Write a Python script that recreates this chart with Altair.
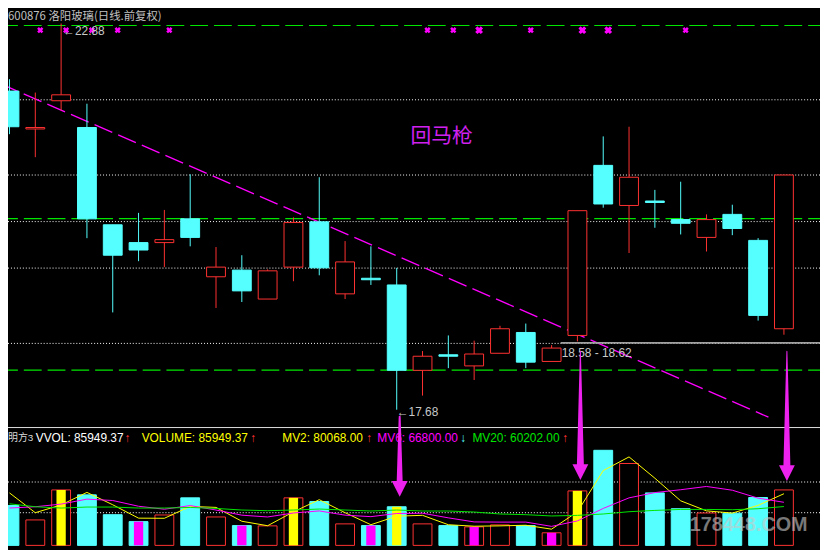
import altair as alt
import pandas as pd

W, H = 820, 542
BG = "#000000"
RED = "#ff3232"
CYAN = "#55ffff"
MAG = "#ff00ff"
ARROW = "#ee22ee"
YEL = "#ffff00"
GRN = "#00e600"
LBL = "#c8c8c8"

# ---------------- data ----------------
idx = list(range(1, 32))
open_p = [21.97, 21.46, 21.84, 21.48, 20.17, 19.93, 19.93, 20.25, 19.47, 19.56,
          19.17, 19.60, 20.21, 19.24, 19.45, 19.36, 18.21, 18.42, 18.27, 18.44,
          18.72, 18.33, 18.68, 20.97, 20.43, 20.49, 20.24, 20.00, 20.31, 19.96, 18.77]
high_p = [22.13, 21.95, 22.88, 21.80, 20.17, 20.33, 20.37, 20.85, 19.87, 19.76,
          19.57, 20.27, 20.81, 19.95, 19.88, 19.59, 18.47, 18.68, 18.61, 18.81,
          18.84, 18.55, 20.36, 21.36, 21.49, 20.64, 20.75, 20.31, 20.44, 19.99, 20.84]
low_p = [21.39, 21.08, 21.71, 19.99, 18.99, 19.68, 19.60, 19.88, 19.05, 19.13,
         19.17, 19.41, 19.49, 19.17, 19.36, 17.68, 17.87, 18.24, 18.08, 18.44,
         18.24, 18.33, 18.60, 20.40, 19.79, 20.13, 20.04, 19.81, 20.03, 18.88, 18.69]
close_p = [21.49, 21.48, 21.92, 20.25, 19.76, 19.83, 19.97, 20.00, 19.60, 19.28,
           19.55, 20.20, 19.59, 19.67, 19.43, 18.21, 18.40, 18.40, 18.43, 18.77,
           18.32, 18.51, 20.36, 20.45, 20.81, 20.47, 20.19, 20.24, 20.12, 18.95, 20.84]

volume = [61860, 39450, 85960, 78290, 47590, 36840, 47120, 73680, 44050, 30700,
          30240, 73680, 68000, 33310, 30700, 59870, 33310, 30700, 28700, 31770,
          30700, 19490, 84430, 147360, 126940, 81360, 56800, 50190, 49890, 74187, 85949.37]
mv2 = [81360, 50660, 62700, 82120, 62940, 42210, 41980, 60400, 58870, 37380,
       30470, 51960, 70840, 50660, 32000, 45290, 46590, 32000, 29700, 30240,
       31240, 25100, 51960, 115890, 137150, 104150, 69080, 53500, 50040, 62040, 80068.00]
mv6 = [57870, 59870, 64010, 71680, 69540, 60630, 56030, 61710, 54800, 46820,
       44050, 50190, 53420, 46820, 44520, 49430, 49890, 42670, 36380, 36070,
       36070, 29470, 37910, 57260, 73680, 81820, 86270, 91330, 85500, 73220, 66800.00]
mv20 = [64470, 59870, 57870, 59400, 59400, 57870, 57870, 58790, 57260, 54800,
        53730, 54800, 56330, 54800, 53260, 54800, 53260, 53260, 51730, 48660,
        47590, 45590, 46510, 48660, 52190, 54190, 55720, 55720, 55260, 56800, 60202.00]

yellow_idx = [3, 12, 16, 23]
magenta_idx = [6, 10, 15, 19, 22]

green_levels = [22.853, 20.253, 18.213]
dotted_levels = [21.853, 20.84, 20.213, 19.587, 18.573]
vol_grid = [98240, 50655]
separator_price = 17.44

trend_x = [0.6356, 30.40]
trend_p = [22.071, 17.58]

support_x = [22.35]
support_price = [18.58]

marker_price = 22.79
marker_small = [2, 3, 4, 5, 7, 17, 18, 21, 27]
marker_large = [19, 23, 24]

arrow_idx = [16, 23, 31]
arrow_top = [199550, 300860, 300860]
arrow_head = [99775, 125870, 124335]

# ---------------- scales ----------------
XS = alt.Scale(domain=[0.9425, 32.397], nice=False, zero=False)
PS = alt.Scale(domain=[15.8267, 23.0533], nice=False, zero=False)
VS = alt.Scale(domain=[-3070, 828900], nice=False, zero=False)


def X(f):
    return alt.X(f, type="quantitative", scale=XS, axis=None)


def PY(f):
    return alt.Y(f, type="quantitative", scale=PS, axis=None)


def VY(f):
    return alt.Y(f, type="quantitative", scale=VS, axis=None)


df = pd.DataFrame({"i": idx, "o": open_p, "h": high_p, "l": low_p, "c": close_p,
                   "v": volume, "mv2": mv2, "mv6": mv6, "mv20": mv20})
df["x1"] = df["i"] - 0.365
df["x2"] = df["i"] + 0.365
df["ix1"] = df["i"] - 0.18
df["ix2"] = df["i"] + 0.18
df["blo"] = df[["o", "c"]].min(axis=1)
df["bhi"] = df[["o", "c"]].max(axis=1)
df["zero"] = 0
up = df[df["c"] >= df["o"]]
dn = df[df["c"] < df["o"]]

layers = []

# grid / guide lines
layers.append(alt.Chart(pd.DataFrame({"p": dotted_levels})).mark_rule(
    color="#ffffff", strokeDash=[1, 2], strokeWidth=1).encode(
    y=PY("p"), x=alt.value(0), x2=alt.value(W)))
layers.append(alt.Chart(pd.DataFrame({"p": green_levels})).mark_rule(
    color=GRN, strokeDash=[18, 6], strokeDashOffset=8, strokeWidth=1.2).encode(
    y=PY("p"), x=alt.value(0), x2=alt.value(W)))
layers.append(alt.Chart(pd.DataFrame({"v": vol_grid})).mark_rule(
    color="#ffffff", strokeDash=[1, 2], strokeWidth=1).encode(
    y=VY("v"), x=alt.value(0), x2=alt.value(W)))
layers.append(alt.Chart(pd.DataFrame({"p": [separator_price]})).mark_rule(
    color="#e0e0e0", strokeWidth=1).encode(
    y=PY("p"), x=alt.value(0), x2=alt.value(W)))

# trend line
layers.append(alt.Chart(pd.DataFrame({"x": trend_x, "p": trend_p})).mark_line(
    color=MAG, strokeDash=[19.5, 6.5], strokeWidth=1.3, clip=True).encode(
    x=X("x"), y=PY("p")))

# support line
layers.append(alt.Chart(pd.DataFrame({"x": support_x, "x2": [32.397], "p": support_price})).mark_rule(
    color="#a0a0a0", strokeWidth=2).encode(x=X("x"), x2="x2", y=PY("p")))

# wicks
layers.append(alt.Chart(up).mark_rule(color=RED, strokeWidth=1, clip=True).encode(
    x=X("i"), y=PY("l"), y2="h"))
layers.append(alt.Chart(dn).mark_rule(color=CYAN, strokeWidth=1, clip=True).encode(
    x=X("i"), y=PY("l"), y2="h"))
# bodies
layers.append(alt.Chart(up).mark_rect(fill=BG, stroke=RED, strokeWidth=1, clip=True).encode(
    x=X("x1"), x2="x2", y=PY("blo"), y2="bhi"))
layers.append(alt.Chart(dn).mark_rect(fill=CYAN, stroke=CYAN, strokeWidth=1, clip=True).encode(
    x=X("x1"), x2="x2", y=PY("blo"), y2="bhi"))

# volume bars
layers.append(alt.Chart(up).mark_rect(fill=BG, stroke=RED, strokeWidth=1, clip=True).encode(
    x=X("x1"), x2="x2", y=VY("v"), y2="zero"))
layers.append(alt.Chart(dn).mark_rect(fill=CYAN, stroke=CYAN, strokeWidth=1, clip=True).encode(
    x=X("x1"), x2="x2", y=VY("v"), y2="zero"))
layers.append(alt.Chart(df[df["i"].isin(yellow_idx)]).mark_rect(color=YEL).encode(
    x=X("ix1"), x2="ix2", y=VY("v"), y2="zero"))
layers.append(alt.Chart(df[df["i"].isin(magenta_idx)]).mark_rect(color=MAG).encode(
    x=X("ix1"), x2="ix2", y=VY("v"), y2="zero"))

# watermark
layers.append(alt.Chart(pd.DataFrame({"t": ["178448.COM"]})).mark_text(
    font="Liberation Sans Narrow, Liberation Sans", fontWeight="bold", fontSize=20,
    color="#c8c8c8", opacity=0.6, align="center", baseline="middle").encode(
    text="t:N", x=alt.value(748), y=alt.value(519)))

# MA lines
layers.append(alt.Chart(df).mark_line(color=YEL, strokeWidth=1).encode(x=X("i"), y=VY("mv2")))
layers.append(alt.Chart(df).mark_line(color=MAG, strokeWidth=1).encode(x=X("i"), y=VY("mv6")))
layers.append(alt.Chart(df).mark_line(color=GRN, strokeWidth=1).encode(x=X("i"), y=VY("mv20")))

# top markers
layers.append(alt.Chart(pd.DataFrame({"i": marker_small, "p": marker_price})).mark_point(
    shape="cross", angle=45, filled=True, color=MAG, opacity=1, size=40, xOffset=5).encode(
    x=X("i"), y=PY("p")))
layers.append(alt.Chart(pd.DataFrame({"i": marker_large, "p": marker_price})).mark_point(
    shape="cross", angle=45, filled=True, color=MAG, opacity=1, size=64, xOffset=5).encode(
    x=X("i"), y=PY("p")))

# price annotations
ann = pd.DataFrame({
    "i": [3, 16, support_x[0]],
    "p": [22.775, 17.653, 18.44],
    "t": ["←" + f"{high_p[2]:.2f}", "←" + f"{low_p[15]:.2f}", "18.58 - 18.62"],
    "dx": [2, 0, 1],
})
for _, r in ann.iterrows():
    layers.append(alt.Chart(pd.DataFrame([r])).mark_text(
        font="Liberation Sans", fontSize=12, color=LBL, align="left", baseline="middle",
        dx=float(r["dx"])).encode(x=X("i"), y=PY("p"), text="t:N"))

layers.append(alt.Chart(pd.DataFrame({"i": [17.74], "p": [21.347], "t": ["回马枪"]})).mark_text(
    font="Noto Sans CJK SC", fontSize=21, color="#d020f0", align="center", baseline="middle").encode(
    x=X("i"), y=PY("p"), text="t:N"))

# title
layers.append(alt.Chart(pd.DataFrame({"t": ["600876 洛阳玻璃(日线.前复权)"]})).mark_text(
    font="Noto Sans CJK SC", fontSize=11.5, color="#c0c0c0", align="left", baseline="middle").encode(
    text="t:N", x=alt.value(0), y=alt.value(6)))

# volume header
head_text = ["明方3", f"VVOL: {volume[-1]:.2f}", "↑", f"VOLUME: {volume[-1]:.2f}", "↑",
             f"MV2: {mv2[-1]:.2f}", "↑", f"MV6: {mv6[-1]:.2f}", "↓", f"MV20: {mv20[-1]:.2f}", "↑"]
head_px = [0, 28, 118, 135, 245, 277, 362, 373, 457, 469, 560]
head_col = ["#d8d8d8", "#ffffff", RED, YEL, RED, YEL, RED, MAG, CYAN, GRN, RED]
head_size = [10, 12, 12, 12, 12, 12, 12, 12, 12, 12, 12]
hdf = pd.DataFrame({"t": head_text, "px": head_px, "col": head_col, "fs": head_size})
layers.append(alt.Chart(hdf).mark_text(
    font="Liberation Sans, Noto Sans CJK SC", align="left", baseline="middle").encode(
    text="t:N", x=alt.X("px:Q", scale=None), y=alt.value(432),
    color=alt.Color("col:N", scale=None), size=alt.Size("fs:Q", scale=None)))

# arrows
arr = pd.DataFrame({
    "a": [1, 1, 2, 2, 3, 3],
    "i": [arrow_idx[0], arrow_idx[0], arrow_idx[1], arrow_idx[1], arrow_idx[2], arrow_idx[2]],
    "v": [arrow_top[0], arrow_head[0], arrow_top[1], arrow_head[1], arrow_top[2], arrow_head[2]],
    "w": [2, 6, 1, 7, 1, 7],
    "k": [0, 1, 0, 1, 0, 1],
})
layers.append(alt.Chart(arr).mark_trail(color=ARROW, xOffset=3).encode(
    x=X("i"), y=VY("v"), size=alt.Size("w:Q", scale=None), detail="a:N", order="k:Q"))
layers.append(alt.Chart(pd.DataFrame({"i": arrow_idx, "v": arrow_head})).mark_point(
    shape="M-1,-1L1,-1L0,1Z", filled=True, size=256, color=ARROW, opacity=1,
    xOffset=3, yOffset=8).encode(x=X("i"), y=VY("v")))

chart = alt.layer(*layers).resolve_scale(x="independent", y="independent").properties(
    width=W, height=H, background=BG, padding=0,
    autosize=alt.AutoSizeParams(type="none")).configure_view(strokeWidth=0)

chart.save("out.html", embed_options={"renderer": "svg", "actions": False})
